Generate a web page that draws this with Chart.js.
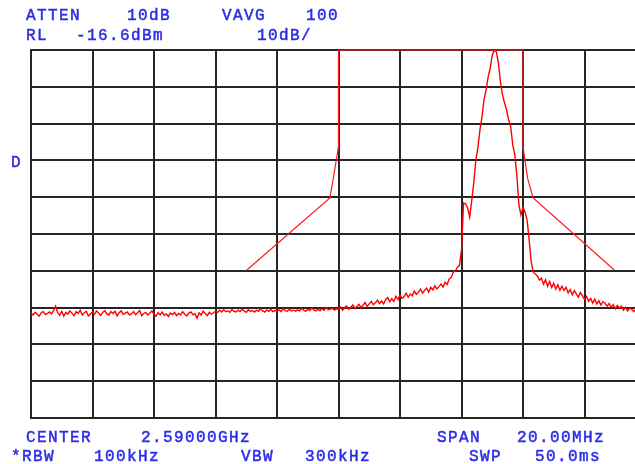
<!DOCTYPE html>
<html>
<head>
<meta charset="utf-8">
<script src="https://cdn.jsdelivr.net/npm/chart.js@4"></script>
<style>
  body { margin: 0; background: #fff; overflow: hidden; width: 635px; height: 464px; position: relative; }
  #wrap { position: absolute; left: 0; top: 0; width: 660px; height: 464px; }
  .t { position: absolute; font-family: "Liberation Mono", monospace; font-size: 16px; line-height: 16px;
       letter-spacing: 1.4px; color: #2d2de8; white-space: pre; -webkit-text-stroke: 0.5px #2d2de8; }
</style>
</head>
<body>
<div id="wrap"><canvas id="chart" width="660" height="464"></canvas></div>

<div class="t" style="left:26px;top:8px">ATTEN</div>
<div class="t" style="left:127px;top:8px">10dB</div>
<div class="t" style="left:222px;top:8px">VAVG</div>
<div class="t" style="left:306px;top:8px">100</div>
<div class="t" style="left:26px;top:28px">RL</div>
<div class="t" style="left:76px;top:28px">-16.6dBm</div>
<div class="t" style="left:257px;top:28px">10dB/</div>
<div class="t" style="left:11px;top:155px">D</div>
<div class="t" style="left:26px;top:430px">CENTER</div>
<div class="t" style="left:141px;top:430px">2.59000GHz</div>
<div class="t" style="left:437px;top:430px">SPAN</div>
<div class="t" style="left:517px;top:430px">20.00MHz</div>
<div class="t" style="left:11px;top:449px">*RBW</div>
<div class="t" style="left:94px;top:449px">100kHz</div>
<div class="t" style="left:241px;top:449px">VBW</div>
<div class="t" style="left:305px;top:449px">300kHz</div>
<div class="t" style="left:469px;top:449px">SWP</div>
<div class="t" style="left:535px;top:449px">50.0ms</div>

<script>
// sweep: 2580 - 2600 MHz, 301 points
const traceStart = 2580;
const traceStep = 20 / 300;
const traceLevel = [
  -88.1,-88.6,-87.9,-88.4,-88.9,-88.0,-87.7,-88.5,-88.2,-87.8,
  -88.3,-87.4,-86.2,-88.0,-88.7,-87.6,-88.9,-87.9,-88.4,-87.5,
  -88.1,-88.8,-87.7,-88.2,-87.3,-88.6,-88.0,-87.6,-88.9,-88.3,
  -87.8,-88.4,-87.5,-88.1,-88.7,-87.9,-87.4,-88.3,-88.6,-87.7,
  -88.2,-87.6,-88.9,-88.0,-87.5,-88.4,-88.1,-87.8,-88.6,-88.3,
  -87.7,-88.5,-88.0,-87.4,-88.8,-88.2,-87.9,-88.6,-88.1,-87.5,
  -88.4,-88.9,-88.0,-88.6,-87.8,-88.7,-88.3,-89.0,-88.1,-88.5,
  -87.9,-88.8,-88.2,-88.6,-87.7,-88.4,-88.9,-88.1,-87.8,-88.5,
  -88.3,-89.5,-88.0,-88.6,-87.6,-88.2,-88.8,-87.9,-88.4,-88.0,
  -87.6,-87.9,-87.3,-87.8,-87.2,-87.7,-87.5,-87.9,-87.1,-87.6,
  -87.8,-87.3,-87.7,-87.0,-87.5,-87.9,-87.2,-87.6,-87.4,-87.8,
  -87.3,-87.6,-86.9,-87.5,-87.8,-87.2,-87.6,-87.1,-87.7,-87.4,
  -87.5,-87.2,-87.7,-86.9,-87.4,-87.6,-87.1,-87.5,-87.3,-87.6,
  -87.2,-87.5,-86.8,-87.3,-87.6,-87.0,-87.4,-86.7,-87.2,-87.5,
  -87.1,-87.4,-86.9,-87.3,-86.6,-87.2,-87.0,-86.8,-87.3,-86.9,
  -87.0,-86.4,-87.3,-86.6,-86.2,-87.1,-86.5,-85.9,-86.8,-86.3,
  -85.7,-86.6,-85.9,-85.2,-86.3,-85.6,-84.9,-85.8,-85.3,-84.6,
  -85.5,-84.8,-85.6,-84.4,-83.9,-85.0,-84.2,-84.9,-83.5,-84.4,
  -83.2,-84.1,-83.6,-82.7,-83.8,-82.9,-83.4,-82.1,-83.0,-82.4,
  -81.6,-82.7,-81.9,-81.3,-82.4,-81.1,-81.8,-80.7,-81.5,-80.9,
  -80.2,-81.0,-79.7,-80.3,-78.8,-78.4,-77.0,-76.6,-75.6,-75.2,
  -70.9,-58.2,-58.4,-59.5,-62.0,-57.4,-52.7,-46.5,-43.2,-38.3,
  -34.8,-30.0,-27.5,-23.9,-21.5,-18.0,-16.6,-17.1,-20.1,-25.3,
  -28.8,-31.0,-32.9,-35.6,-37.5,-42.4,-45.1,-50.6,-58.7,-61.4,
  -59.3,-60.6,-62.8,-68.2,-74.2,-76.9,-77.5,-78.0,-79.1,-78.6,
  -80.2,-79.0,-80.8,-79.5,-81.1,-80.0,-81.6,-80.4,-81.9,-80.8,
  -81.9,-81.1,-82.6,-81.7,-83.1,-82.0,-82.9,-83.8,-82.5,-83.4,
  -84.4,-83.6,-84.9,-84.1,-85.4,-84.3,-85.6,-84.7,-85.9,-85.0,
  -85.4,-86.2,-85.5,-86.5,-85.8,-86.9,-86.0,-86.7,-86.2,-87.3,
  -86.5,-87.5,-86.8,-87.0,-87.7,-86.9,-87.4,-87.8,-87.1,-87.6,-87.3
];

// limit mask
const maskFreq  = [2587.02, 2589.72, 2589.82, 2590.0, 2590.0, 2596.0, 2596.0, 2596.15, 2596.33, 2598.97];
const maskLevel = [-76.4, -56.8, -52.0, -42.9, -16.6, -16.6, -42.9, -51.5, -56.8, -76.4];

// 10 dB/div from RL -16.6 dBm
const yTicks = [-116.6, -106.6, -96.6, -86.6, -76.6, -66.6, -56.6, -46.6, -36.6, -26.6, -16.6];

const trace = traceLevel.map((v, i) => ({ x: traceStart + i * traceStep, y: v }));
const mask = maskFreq.map((f, i) => ({ x: f, y: maskLevel[i] }));

const gridColor = "#262626";

new Chart(document.getElementById("chart"), {
  type: "scatter",
  data: {
    datasets: [
      {
        data: mask,
        showLine: true,
        borderColor: "#ff1a1a",
        borderWidth: 1.2,
        pointRadius: 0,
        clip: false,
      },
      {
        data: trace,
        showLine: true,
        borderColor: "#ff0000",
        borderWidth: 1.4,
        pointRadius: 0,
        clip: false,
      },
    ],
  },
  options: {
    responsive: false,
    animation: false,
    events: [],
    layout: { padding: { left: 31, top: 50, right: 14, bottom: 46 } },
    plugins: { legend: { display: false }, tooltip: { enabled: false } },
    scales: {
      x: {
        type: "linear",
        min: 2580,
        max: 2600,
        ticks: { display: false, stepSize: 2 },
        grid: { color: gridColor, lineWidth: 2, drawTicks: false },
        border: { color: gridColor, width: 2 },
        afterFit: (s) => { s.height = 0; },
      },
      y: {
        type: "linear",
        min: -116.6,
        max: -16.6,
        ticks: { display: false },
        afterBuildTicks: (s) => { s.ticks = yTicks.map((v) => ({ value: v })); },
        grid: { color: gridColor, lineWidth: 2, drawTicks: false },
        border: { color: gridColor, width: 2 },
        afterFit: (s) => { s.width = 0; },
      },
    },
  },
});
</script>
</body>
</html>
